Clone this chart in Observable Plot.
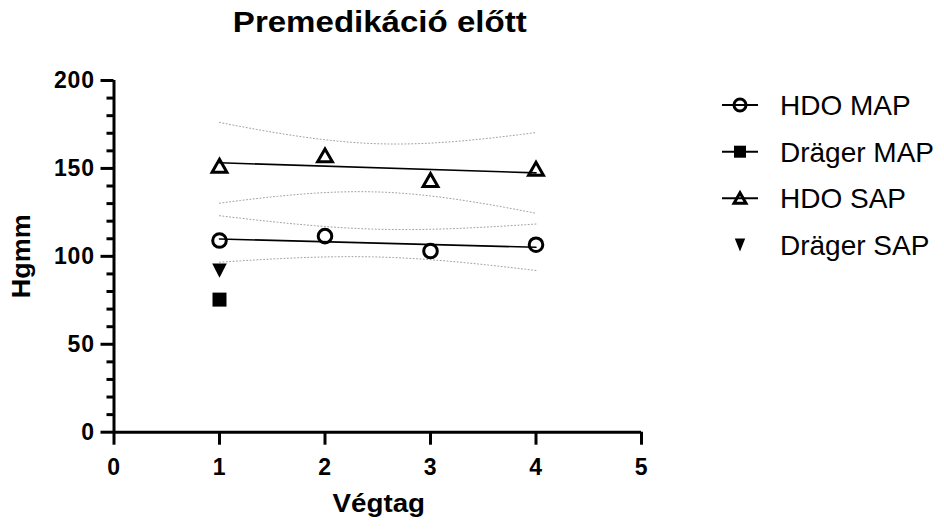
<!DOCTYPE html>
<html>
<head>
<meta charset="utf-8">
<script src="https://cdn.jsdelivr.net/npm/d3@7"></script>
<script src="https://cdn.jsdelivr.net/npm/@observablehq/plot@0.6"></script>
<style>
  body { margin: 0; background: #fff; }
  #wrap { position: relative; width: 944px; height: 529px; }
  #wrap svg { display: block; }
  g[aria-label="x-axis tick label"], g[aria-label="y-axis tick label"] { font-size: 23px; letter-spacing: 0.9px; }
  #legend { position: absolute; left: 0; top: 0; }
</style>
</head>
<body>
<div id="wrap"></div>
<script>
// Limb index (Végtag) for each measurement
const limbs = [1, 2, 3, 4];
// HDO readings per limb, mmHg
const hdoMap = [109.0, 111.5, 103.0, 106.6];
const hdoSap = [151.3, 157.2, 143.2, 149.6];
// Dräger reference readings (single limb)
const dragerLimbs = [1];
const dragerMap = [75.4];
const dragerSap = [92.0];

const xTicks = [0, 1, 2, 3, 4, 5];
const yTicks = [0, 50, 100, 150, 200];
const yMinorTicks = d3.range(10, 200, 10).filter(v => v % 50 !== 0);

const seriesNames = ["HDO MAP", "Dräger MAP", "HDO SAP", "Dräger SAP"];

const rows = (xs, ys) => xs.map((x, i) => ({limb: x, value: ys[i]}));
const mapRows = rows(limbs, hdoMap);
const sapRows = rows(limbs, hdoSap);
const dMapRows = rows(dragerLimbs, dragerMap);
const dSapRows = rows(dragerLimbs, dragerSap);

// 95% confidence band of the fitted regression line (t quantile, df = n - 2 = 2)
const T_CRIT = 4.303;
function confidenceBand(xs, ys) {
  const n = xs.length, mx = d3.mean(xs), my = d3.mean(ys);
  const sxx = d3.sum(xs, x => (x - mx) ** 2);
  const b = d3.sum(xs, (x, i) => (x - mx) * (ys[i] - my)) / sxx;
  const a = my - b * mx;
  const s = Math.sqrt(d3.sum(xs, (x, i) => (ys[i] - a - b * x) ** 2) / (n - 2));
  const x0 = d3.min(xs), x1 = d3.max(xs);
  return d3.range(0, 61).map(i => {
    const x = x0 + (i / 60) * (x1 - x0);
    const h = T_CRIT * s * Math.sqrt(1 / n + (x - mx) ** 2 / sxx);
    return {x, lo: a + b * x - h, hi: a + b * x + h};
  });
}
const mapBand = confidenceBand(limbs, hdoMap);
const sapBand = confidenceBand(limbs, hdoSap);

// Triangle symbols centred on their bounding box
const triUp = {draw(ctx) { ctx.moveTo(0, -6.8); ctx.lineTo(7.4, 6); ctx.lineTo(-7.4, 6); ctx.closePath(); }};
const triDown = {draw(ctx) { ctx.moveTo(-7.3, -6.8); ctx.lineTo(7.3, -6.8); ctx.lineTo(0, 7.4); ctx.closePath(); }};

const bandStyle = {x: "x", stroke: "#a0a0a0", strokeWidth: 1, strokeDasharray: "1,2.4"};

const chart = Plot.plot({
  width: 944,
  height: 529,
  marginLeft: 113.5,
  marginRight: 303,
  marginTop: 80,
  marginBottom: 97.3,
  style: {fontFamily: '"Liberation Sans", Arial, sans-serif', fontWeight: "bold", color: "#000", background: "#fff", overflow: "visible"},
  x: {domain: [0, 5]},
  y: {domain: [0, 200]},
  marks: [
    Plot.line(mapBand, {...bandStyle, y: "hi"}),
    Plot.line(mapBand, {...bandStyle, y: "lo"}),
    Plot.line(sapBand, {...bandStyle, y: "hi"}),
    Plot.line(sapBand, {...bandStyle, y: "lo"}),
    Plot.linearRegressionY(mapRows, {x: "limb", y: "value", ci: 0, stroke: "#000", strokeWidth: 1.6}),
    Plot.linearRegressionY(sapRows, {x: "limb", y: "value", ci: 0, stroke: "#000", strokeWidth: 1.6}),
    Plot.dot(mapRows, {x: "limb", y: "value", r: 6.8, symbol: "circle", fill: "none", stroke: "#000", strokeWidth: 3}),
    Plot.dot(sapRows, {x: "limb", y: "value", symbol: triUp, fill: "none", stroke: "#000", strokeWidth: 3, strokeLinejoin: "miter"}),
    Plot.dot(dMapRows, {x: "limb", y: "value", r: 7.9, symbol: "square", fill: "#000", stroke: "none"}),
    Plot.dot(dSapRows, {x: "limb", y: "value", symbol: triDown, fill: "#000", stroke: "none"}),
    // axes
    Plot.ruleX([0], {y1: 0, y2: 200, stroke: "#000", strokeWidth: 3}),
    Plot.ruleY([0], {x1: 0, x2: 5, stroke: "#000", strokeWidth: 3}),
    Plot.axisY(yMinorTicks, {tickSize: 7, tickFormat: () => "", strokeWidth: 3, label: null}),
    Plot.axisY({ticks: yTicks, tickSize: 13, tickPadding: 6, tickFormat: d3.format("d"), fontSize: 23, strokeWidth: 3, label: null}),
    Plot.axisX({ticks: xTicks, tickSize: 13, tickPadding: 13, tickFormat: d3.format("d"), fontSize: 23, strokeWidth: 3, label: null}),
    Plot.text(["Premedikáció előtt"], {text: d => d, frameAnchor: "top", textAnchor: "middle", dx: 2, dy: -49, lineAnchor: "bottom", fontSize: 29, fontWeight: "bold", ariaDescription: "title"}),
    Plot.text(["Végtag"], {text: d => d, frameAnchor: "bottom", textAnchor: "middle", dx: 1, dy: 79.5, lineAnchor: "bottom", fontSize: 25, fontWeight: "bold", ariaDescription: "x-label"}),
    Plot.text(["Hgmm"], {text: d => d, frameAnchor: "left", textAnchor: "middle", dx: -84.5, rotate: -90, lineAnchor: "bottom", fontSize: 25, fontWeight: "bold", ariaDescription: "y-label"})
  ]
});

// Widen the bold heading glyphs along their reading direction
function widen(selector, s) {
  d3.select(chart).selectAll(`g[aria-description="${selector}"] text`).each(function () {
    const t = d3.select(this);
    const x = +(t.attr("x") || 0), y = +(t.attr("y") || 0);
    const base = t.attr("transform") || "";
    t.attr("transform", `${base} translate(${x},${y}) scale(${s},1) translate(${-x},${-y})`);
  });
}
widen("title", 1.14);
widen("x-label", 1.11);
widen("y-label", 1.08);

const wrap = document.getElementById("wrap");
wrap.appendChild(chart);

// Legend
const legend = d3.select(wrap).append("svg")
  .attr("id", "legend").attr("width", 944).attr("height", 529)
  .style("pointer-events", "none");
const legendRows = [
  {name: seriesNames[0], line: true, kind: "circle"},
  {name: seriesNames[1], line: true, kind: "square"},
  {name: seriesNames[2], line: true, kind: "triUp"},
  {name: seriesNames[3], line: false, kind: "triDown"}
];
const rowY = [105, 151.7, 198.3, 245];
legendRows.forEach((row, i) => {
  const g = legend.append("g").attr("transform", `translate(740,${rowY[i]})`);
  if (row.line) g.append("line").attr("x1", -18).attr("x2", 18).attr("stroke", "#000").attr("stroke-width", 2);
  if (row.kind === "circle") g.append("circle").attr("r", 6).attr("fill", "none").attr("stroke", "#000").attr("stroke-width", 3);
  if (row.kind === "square") g.append("rect").attr("x", -6).attr("y", -6).attr("width", 12).attr("height", 12).attr("fill", "#000");
  if (row.kind === "triUp") g.append("path").attr("d", "M0,-5.6L6,5L-6,5Z").attr("fill", "none").attr("stroke", "#000").attr("stroke-width", 3);
  if (row.kind === "triDown") g.append("path").attr("d", "M-5.2,-6.5L5.2,-6.5L0,6.5Z").attr("fill", "#000");
  legend.append("text")
    .attr("x", 780).attr("y", rowY[i] + 10)
    .attr("font-family", '"Liberation Sans", Arial, sans-serif')
    .attr("font-size", 28)
    .attr("fill", "#000")
    .text(row.name);
});
</script>
</body>
</html>
